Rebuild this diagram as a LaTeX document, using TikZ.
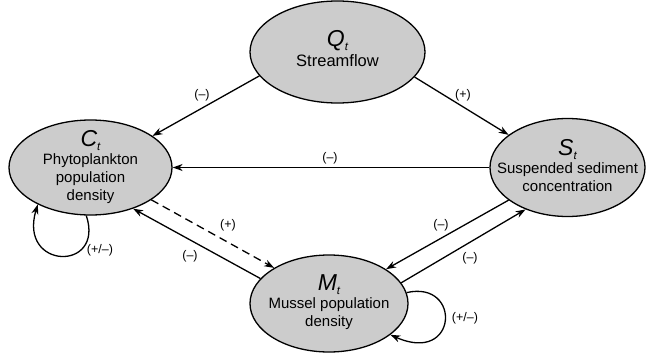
\documentclass[tikz,border=0pt]{standalone}
\usepackage{fontspec}
\setmainfont{Liberation Sans}
\usetikzlibrary{shapes.geometric,arrows.meta}
\newcommand{\varsym}[1]{{\fontsize{23}{23}\selectfont\itshape #1\raisebox{-4pt}{\fontsize{11.5}{11.5}\selectfont t}}}
\begin{document}
\begin{tikzpicture}[x=1pt,y=-1pt,
  var/.style={ellipse, draw=black, line width=1.3pt, fill=black!20, inner sep=0pt},
  vtext/.style={align=center, inner sep=0pt, font=\fontsize{15}{18}\selectfont},
  link/.style={line width=1.3pt, -{Stealth[length=10pt,width=7pt]}},
  sign/.style={font=\fontsize{12.5}{14}\selectfont, inner sep=1pt}]
\useasboundingbox (0,0) rectangle (647,353);
% nodes
\node[var, minimum width=175pt, minimum height=102pt] (Q) at (337.5,52) {};
\node[var, minimum width=163pt, minimum height=95pt] (C) at (90.5,167.5) {};
\node[var, minimum width=155pt, minimum height=98pt] (S) at (567.5,167.5) {};
\node[var, minimum width=158pt, minimum height=97pt] (M) at (329,303.5) {};
\node[vtext] (Qt) at (337.5,49) {\varsym{Q}\\[2pt]{\fontsize{16.5}{18}\selectfont Streamflow}};
\node[vtext] (Ct) at (90.5,167) {\varsym{C}\\Phytoplankton\\population\\density};
\node[vtext] (St) at (567.5,166) {\varsym{S}\\Suspended sediment\\concentration};
\node[vtext] (Mt) at (329,302) {\varsym{M}\\Mussel population\\density};
% connectors
\draw[link] (Q.197) -- (C.27);
\draw[link] (Q.342) -- (S.151);
\draw[link] (S.180) -- (C.0);
\draw[link, dash pattern=on 8pt off 5pt] (C.332) -- (M.147);
\draw[link] (M.160) -- (C.316);
\draw[link] (S.209) -- (M.31);
\draw[link] (M.16) -- (S.225);
\draw[link] (C.265) .. controls (105,272) and (18,270) .. (C.215);
\draw[link] (M.8) .. controls (462,280) and (458,365) .. (M.333);
% labels
\node[sign] (l1) at (202,95) {(–)};
\node[sign] (l2) at (463,95) {(+)};
\node[sign] (l3) at (330,158) {(–)};
\node[sign] (l4) at (228,225) {(+)};
\node[sign] (l5) at (190,256) {(–)};
\node[sign] (l6) at (441,225) {(–)};
\node[sign] (l7) at (470,258) {(–)};
\node[sign] (l8) at (100,250) {(+/–)};
\node[sign] (l9) at (465,318) {(+/–)};
\end{tikzpicture}
\end{document}
